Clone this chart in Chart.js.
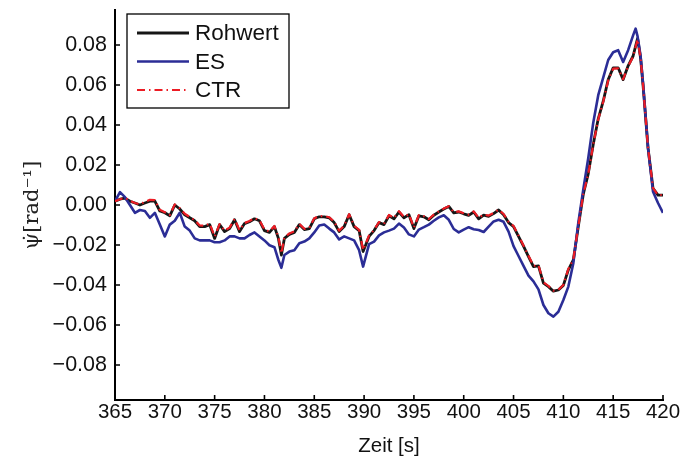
<!DOCTYPE html>
<html>
<head>
<meta charset="utf-8">
<script src="https://cdn.jsdelivr.net/npm/chart.js@4.4.1/dist/chart.umd.min.js"></script>
<style>
  body { margin: 0; background: #fff; }
</style>
</head>
<body>
<canvas id="yawChart" width="683" height="459"></canvas>
<script>
// time stamps [s], shared by all three signals
const times = [
  365, 365.5, 366, 366.5, 367, 367.5, 368, 368.5, 369, 369.5,
  370, 370.5, 371, 371.5, 372, 372.5, 373, 373.5, 374, 374.5,
  375, 375.5, 376, 376.5, 377, 377.5, 378, 378.5, 379, 379.5,
  380, 380.5, 381, 381.4, 381.7, 382, 382.5, 383, 383.5, 384, 384.5,
  385, 385.5, 386, 386.5, 387, 387.5, 388, 388.5, 389, 389.5, 389.9,
  390.5, 391, 391.5, 392, 392.5, 393, 393.5, 394, 394.5,
  395, 395.5, 396, 396.5, 397, 397.5, 398, 398.5, 399, 399.5,
  400, 400.5, 401, 401.5, 402, 402.5, 403, 403.5, 404, 404.5,
  405, 405.5, 406, 406.5, 407, 407.5, 408, 408.5, 409, 409.5,
  410, 410.5, 411, 411.5, 412, 412.5, 413, 413.5, 414, 414.5,
  415, 415.5, 416, 416.5, 417, 417.25, 417.45, 417.75, 418, 418.5, 419, 419.5, 420
];

// yaw rate, raw measurement
const rohwert = [
  0.0019, 0.0029, 0.0034, 0.0019, 0.0010, 0.0000, 0.0010, 0.0019, 0.0019, -0.0030,
  -0.0039, -0.0054, 0.0000, -0.0020, -0.0049, -0.0064, -0.0079, -0.0108, -0.0108, -0.0098,
  -0.0167, -0.0098, -0.0133, -0.0118, -0.0074, -0.0133, -0.0093, -0.0084, -0.0069, -0.0079,
  -0.0128, -0.0137, -0.0108, -0.0167, -0.0250, -0.0167, -0.0147, -0.0137, -0.0098, -0.0123, -0.0118,
  -0.0069, -0.0059, -0.0059, -0.0064, -0.0088, -0.0133, -0.0108, -0.0049, -0.0108, -0.0128, -0.0233,
  -0.0157, -0.0128, -0.0088, -0.0098, -0.0054, -0.0069, -0.0035, -0.0064, -0.0049,
  -0.0118, -0.0054, -0.0059, -0.0074, -0.0051, -0.0035, -0.0020, -0.0007, -0.0039, -0.0035,
  -0.0044, -0.0052, -0.0035, -0.0069, -0.0051, -0.0057, -0.0043, -0.0025, -0.0049, -0.0088,
  -0.0108, -0.0157, -0.0206, -0.0258, -0.0308, -0.0304, -0.0391, -0.0408, -0.0431, -0.0425,
  -0.0402, -0.0324, -0.0275, -0.0108, 0.0054, 0.0157, 0.0304, 0.0431, 0.0519, 0.0627,
  0.0686, 0.0686, 0.0627, 0.0696, 0.0745, 0.0794, 0.0833, 0.0735, 0.0598, 0.0284, 0.0083, 0.0049, 0.0049
];

// yaw rate, ES estimate
const es = [
  0.0019, 0.0064, 0.0039, 0.0000, -0.0039, -0.0025, -0.0030, -0.0064, -0.0039, -0.0098,
  -0.0157, -0.0098, -0.0079, -0.0039, -0.0108, -0.0128, -0.0167, -0.0177, -0.0177, -0.0177,
  -0.0186, -0.0186, -0.0177, -0.0157, -0.0157, -0.0167, -0.0167, -0.0150, -0.0137, -0.0157,
  -0.0177, -0.0201, -0.0211, -0.0275, -0.0314, -0.0250, -0.0233, -0.0226, -0.0191, -0.0183, -0.0167,
  -0.0137, -0.0103, -0.0098, -0.0118, -0.0137, -0.0172, -0.0157, -0.0167, -0.0177, -0.0226, -0.0308,
  -0.0196, -0.0183, -0.0152, -0.0137, -0.0128, -0.0118, -0.0093, -0.0113, -0.0147,
  -0.0157, -0.0123, -0.0111, -0.0098, -0.0079, -0.0062, -0.0051, -0.0074, -0.0120, -0.0137,
  -0.0123, -0.0111, -0.0121, -0.0125, -0.0135, -0.0108, -0.0082, -0.0074, -0.0084, -0.0133,
  -0.0206, -0.0255, -0.0304, -0.0353, -0.0382, -0.0422, -0.0500, -0.0541, -0.0558, -0.0534,
  -0.0475, -0.0408, -0.0291, -0.0088, 0.0078, 0.0235, 0.0411, 0.0549, 0.0637, 0.0725,
  0.0764, 0.0774, 0.0715, 0.0774, 0.0848, 0.0882, 0.0843, 0.0745, 0.0607, 0.0284, 0.0066, 0.0010, -0.0039
];

// yaw rate, CTR estimate
const ctr = [
  0.0019, 0.0029, 0.0036, 0.0022, 0.0010, 0.0003, 0.0016, 0.0026, 0.0024, -0.0024,
  -0.0036, -0.0050, 0.0003, -0.0016, -0.0044, -0.0060, -0.0076, -0.0102, -0.0104, -0.0093,
  -0.0158, -0.0096, -0.0128, -0.0113, -0.0070, -0.0126, -0.0090, -0.0080, -0.0066, -0.0076,
  -0.0122, -0.0133, -0.0105, -0.0160, -0.0242, -0.0162, -0.0142, -0.0132, -0.0095, -0.0119, -0.0114,
  -0.0066, -0.0056, -0.0055, -0.0061, -0.0084, -0.0128, -0.0104, -0.0046, -0.0104, -0.0124, -0.0225,
  -0.0152, -0.0125, -0.0085, -0.0094, -0.0050, -0.0065, -0.0031, -0.0060, -0.0046,
  -0.0113, -0.0050, -0.0056, -0.0070, -0.0048, -0.0032, -0.0018, -0.0006, -0.0036, -0.0032,
  -0.0041, -0.0048, -0.0032, -0.0064, -0.0048, -0.0053, -0.0040, -0.0023, -0.0045, -0.0084,
  -0.0105, -0.0153, -0.0203, -0.0254, -0.0304, -0.0301, -0.0386, -0.0405, -0.0428, -0.0424,
  -0.0400, -0.0320, -0.0272, -0.0106, 0.0055, 0.0156, 0.0302, 0.0428, 0.0516, 0.0623,
  0.0682, 0.0683, 0.0629, 0.0693, 0.0742, 0.0790, 0.0828, 0.0733, 0.0598, 0.0285, 0.0084, 0.0050, 0.0050
];

const xTicks = [365, 370, 375, 380, 385, 390, 395, 400, 405, 410, 415, 420];
const yTicks = [-0.08, -0.06, -0.04, -0.02, 0, 0.02, 0.04, 0.06, 0.08];

const SANS = '"Liberation Sans", Arial, sans-serif';
const toPoints = vals => vals.map((v, i) => ({ x: times[i], y: v }));

// small tick marks pointing into the plot, like matlab axes
const innerTicks = {
  id: 'innerTicks',
  afterDatasetsDraw(chart) {
    const { ctx, chartArea, scales: { x, y } } = chart;
    ctx.save();
    ctx.strokeStyle = '#000';
    ctx.lineWidth = 1.6;
    ctx.beginPath();
    x.ticks.forEach(t => {
      const px = x.getPixelForValue(t.value);
      ctx.moveTo(px, chartArea.bottom);
      ctx.lineTo(px, chartArea.bottom - 5);
    });
    y.ticks.forEach(t => {
      const py = y.getPixelForValue(t.value);
      ctx.moveTo(chartArea.left, py);
      ctx.lineTo(chartArea.left + 5, py);
    });
    ctx.stroke();
    ctx.restore();
  }
};

// boxed legend in the upper left corner of the plot
const boxLegend = {
  id: 'boxLegend',
  afterDraw(chart) {
    const ctx = chart.ctx;
    const left = 127, top = 14, width = 162, height = 94;
    ctx.save();
    ctx.fillStyle = '#fff';
    ctx.fillRect(left, top, width, height);
    ctx.strokeStyle = '#000';
    ctx.lineWidth = 1.3;
    ctx.strokeRect(left, top, width, height);
    ctx.font = '22.5px ' + SANS;
    ctx.textBaseline = 'middle';
    chart.data.datasets.forEach((ds, i) => {
      const cy = 33 + i * 28.5;
      ctx.strokeStyle = ds.borderColor;
      ctx.lineWidth = ds.borderWidth;
      ctx.setLineDash(ds.borderDash || []);
      ctx.beginPath();
      ctx.moveTo(137, cy);
      ctx.lineTo(189, cy);
      ctx.stroke();
      ctx.setLineDash([]);
      ctx.fillStyle = '#111';
      ctx.fillText(ds.label, 195, cy + 1);
    });
    ctx.restore();
  }
};

new Chart(document.getElementById('yawChart'), {
  type: 'line',
  data: {
    datasets: [
      {
        label: 'Rohwert',
        data: toPoints(rohwert),
        borderColor: '#161616',
        borderWidth: 2.8,
        order: 3
      },
      {
        label: 'ES',
        data: toPoints(es),
        borderColor: '#2b2d96',
        borderWidth: 2.6,
        order: 2
      },
      {
        label: 'CTR',
        data: toPoints(ctr),
        borderColor: '#ec1c24',
        borderWidth: 2.2,
        borderDash: [8, 4, 1.5, 4],
        order: 1
      }
    ]
  },
  options: {
    responsive: false,
    animation: false,
    layout: { padding: { top: 10, right: 20, left: 0, bottom: 0 } },
    elements: {
      point: { radius: 0 },
      line: { tension: 0, borderJoinStyle: 'round' }
    },
    plugins: {
      legend: { display: false },
      tooltip: { enabled: false }
    },
    scales: {
      x: {
        type: 'linear',
        min: 365,
        max: 420,
        afterBuildTicks: s => { s.ticks = xTicks.map(v => ({ value: v })); },
        afterFit: s => { s.height = 59; s.paddingLeft = 0; s.paddingRight = 0; },
        grid: { display: false, drawTicks: false },
        border: { display: true, color: '#000', width: 2 },
        ticks: {
          color: '#111',
          padding: 0,
          maxRotation: 0,
          font: { family: SANS, size: 20.5 },
          callback: v => String(v)
        },
        title: {
          display: true,
          text: 'Zeit [s]',
          color: '#111',
          padding: 0,
          font: { family: SANS, size: 20.5 }
        }
      },
      y: {
        min: -0.0975,
        max: 0.0975,
        afterBuildTicks: s => { s.ticks = yTicks.map(v => ({ value: v })); },
        afterFit: s => { s.width = 115; s.paddingTop = 0; s.paddingBottom = 0; },
        grid: { display: false, drawTicks: false },
        border: { display: true, color: '#000', width: 2 },
        ticks: {
          color: '#111',
          padding: 8,
          font: { family: SANS, size: 21.5 },
          callback: v => (v < 0 ? '\u2212' : '') + Math.abs(v).toFixed(2)
        },
        title: {
          display: true,
          text: 'ψ̇[rad⁻¹]',
          color: '#222',
          padding: { top: 20, bottom: 0 },
          font: { family: '"DejaVu Serif", serif', size: 21 }
        }
      }
    }
  },
  plugins: [innerTicks, boxLegend]
});
</script>
</body>
</html>
